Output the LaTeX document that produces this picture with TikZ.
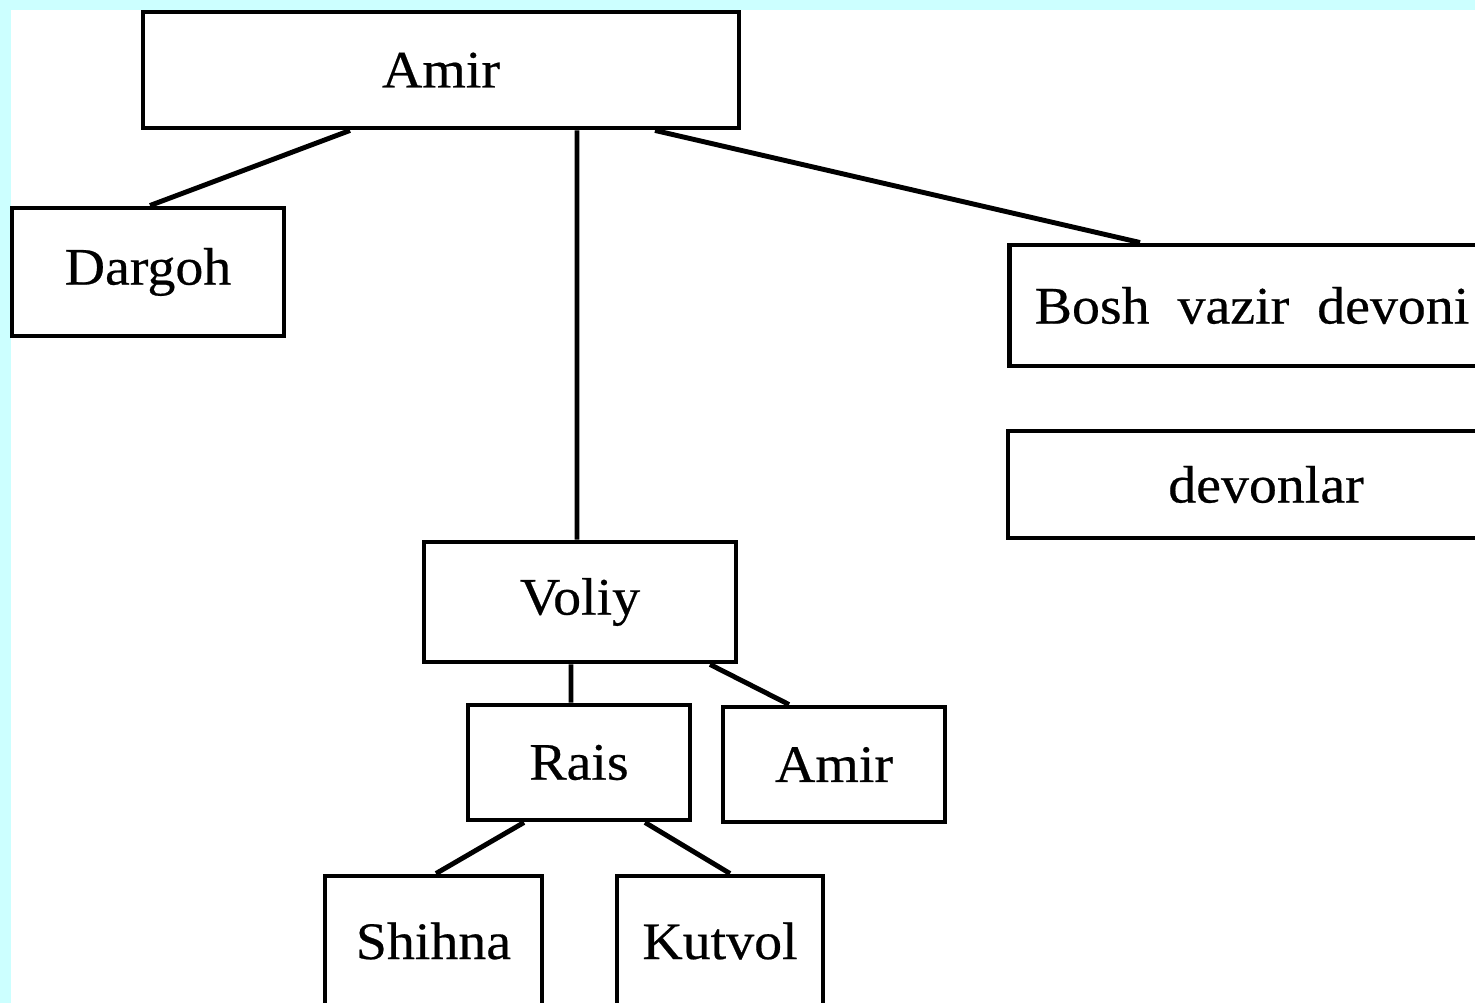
\documentclass[tikz,border=0pt]{standalone}
\usepackage{fontspec}
\setmainfont{Liberation Serif}[FakeStretch=1.06, FakeBold=0.4]
\definecolor{bgcyan}{HTML}{CCFFFF}
\tikzset{
	box/.style={draw, line width=1.4pt, inner sep=0pt, fill=white,
		font=\fontsize{15}{18}\selectfont},
	link/.style={line width=1.4pt}
}
\begin{document}
\begin{tikzpicture}[x=1cm, y=-1cm]
	\useasboundingbox (0,0) rectangle (14.75,10.03);
	\clip (0,0) rectangle (14.75,10.03);
	\fill[bgcyan] (0,0) rectangle (14.75,10.03);
	\fill[white] (0.11,0.10) rectangle (14.75,10.03);
	% boxes
	\node[box, minimum width=5.96cm, minimum height=1.16cm] (amir) at (4.41,0.70) {Amir};
	\node[box, minimum width=2.72cm, minimum height=1.28cm] (dargoh) at (1.48,2.72) {Dargoh};
	\node[box, minimum width=4.85cm, minimum height=1.21cm] (bosh) at (12.52,3.055) {Bosh\ \ vazir\ \ devoni};
	\node[box, minimum width=5.16cm, minimum height=1.07cm] (devonlar) at (12.66,4.845) {devonlar};
	\node[box, minimum width=3.12cm, minimum height=1.20cm] (voliy) at (5.80,6.02) {Voliy};
	\node[box, minimum width=2.22cm, minimum height=1.15cm] (rais) at (5.79,7.625) {Rais};
	\node[box, minimum width=2.22cm, minimum height=1.15cm] (amirb) at (8.34,7.645) {Amir};
	\node[box, minimum width=2.17cm, minimum height=1.30cm] (shihna) at (4.335,9.41) {Shihna};
	\node[box, minimum width=2.06cm, minimum height=1.30cm] (kutvol) at (7.20,9.41) {Kutvol};
	% links
	\draw[link] ([xshift=-0.91cm]amir.south) -- ([xshift=0.02cm]dargoh.north);
	\draw[link] ([xshift=1.36cm]amir.south) -- ([xshift=-0.03cm]voliy.north);
	\draw[link] ([xshift=2.14cm]amir.south) -- ([xshift=-1.12cm]bosh.north);
	\draw[link] ([xshift=-0.09cm]voliy.south) -- ([xshift=-0.08cm]rais.north);
	\draw[link] ([xshift=1.30cm]voliy.south) -- ([xshift=-0.45cm]amirb.north);
	\draw[link] ([xshift=-0.55cm]rais.south) -- ([xshift=0.025cm]shihna.north);
	\draw[link] ([xshift=0.66cm]rais.south) -- ([xshift=0.10cm]kutvol.north);
\end{tikzpicture}
\end{document}
